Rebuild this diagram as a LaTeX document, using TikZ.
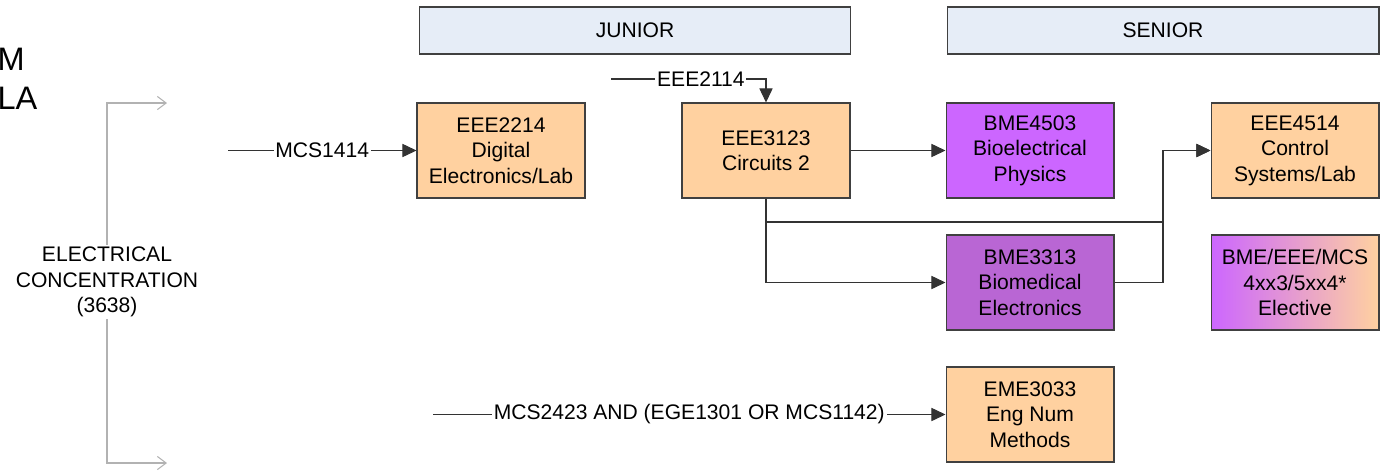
\documentclass[tikz,border=0pt]{standalone}
\usepackage{fontspec}
\setmainfont{Liberation Sans}
\usetikzlibrary{arrows.meta}

\definecolor{peach}{RGB}{255,209,160}
\definecolor{violetA}{RGB}{204,102,255}
\definecolor{violetB}{RGB}{185,102,212}
\definecolor{bandfill}{RGB}{230,237,247}
\definecolor{edgegray}{RGB}{64,64,64}

\begin{document}
\begin{tikzpicture}[x=0.02cm,y=-0.02cm,line width=0.6pt,
  font=\fontsize{12}{14.5}\selectfont,
  course/.style={draw=edgegray,minimum width=3.36cm,minimum height=1.9cm,align=center,inner sep=0pt},
  band/.style={draw=edgegray,fill=bandfill,minimum width=8.64cm,minimum height=0.94cm,inner sep=0pt},
  link/.style={draw=black!80,-{Triangle[length=8pt,width=7.5pt]}},
  tag/.style={fill=white,inner sep=1pt}]
\useasboundingbox (0,0) rectangle (1389,471);
%\draw[step=100,gray!30,very thin] (0,0) grid (1389,471);
\node[font=\fontsize{18.5}{22}\selectfont,anchor=base west,inner sep=0pt] (m) at (-3,70) {M};
\node[font=\fontsize{18.5}{22}\selectfont,anchor=base west,inner sep=0pt] (la) at (-3,109) {LA};
\node[band] (junior) at (635,30.5) {JUNIOR};
\node[band] (senior) at (1163,30.5) {SENIOR};
\node[course,fill=peach] (eee2214) at (501,150.5) {EEE2214\\Digital\\Electronics/Lab};
\node[course,fill=peach] (eee3123) at (766,150.5) {EEE3123\\Circuits 2};
\node[course,fill=violetA] (bme4503) at (1030,150.5) {BME4503\\Bioelectrical\\Physics};
\node[course,fill=peach] (eee4514) at (1295,150.5) {EEE4514\\Control\\Systems/Lab};
\node[course,fill=violetB] (bme3313) at (1030,282.5) {BME3313\\Biomedical\\Electronics};
\node[course,left color=violetA,right color=peach] (elective) at (1295,282.5) {BME/EEE/MCS\\4xx3/5xx4*\\Elective};
\node[course,fill=peach] (eme3033) at (1030,414.5) {EME3033\\Eng Num\\Methods};
% bracket on the left
\node[align=center,fill=white,inner sep=1pt] (conc) at (107,282) {ELECTRICAL\\CONCENTRATION\\(3638)};
\coordinate (brtop) at (167,103);
\coordinate (brbot) at (167,463);
\draw[gray!60,-{Straight Barb[length=5pt,width=7.5pt]}] (conc.north) |- (brtop);
\draw[gray!60,-{Straight Barb[length=5pt,width=7.5pt]}] (conc.south) |- (brbot);
% prerequisites
\coordinate (inA) at (228,150.5);
\coordinate (inB) at (611,79);
\coordinate (inC) at (433,414.5);
\coordinate (jn) at (1163,222);
\draw[link] (inA) -- node[tag]{MCS1414} (eee2214);
\draw[link] (inB) -| node[tag,pos=0.29]{EEE2114} (eee3123);
\draw[link] (eee3123) -- (bme4503);
\draw[link] (eee3123.south) |- (jn) |- (eee4514);
\draw[link] (eee3123.south) |- (bme3313);
\draw[link] (bme3313) -| (jn) |- (eee4514);
\draw[link] (inC) -- node[tag]{MCS2423 AND (EGE1301 OR MCS1142)} (eme3033);
\end{tikzpicture}
\end{document}
